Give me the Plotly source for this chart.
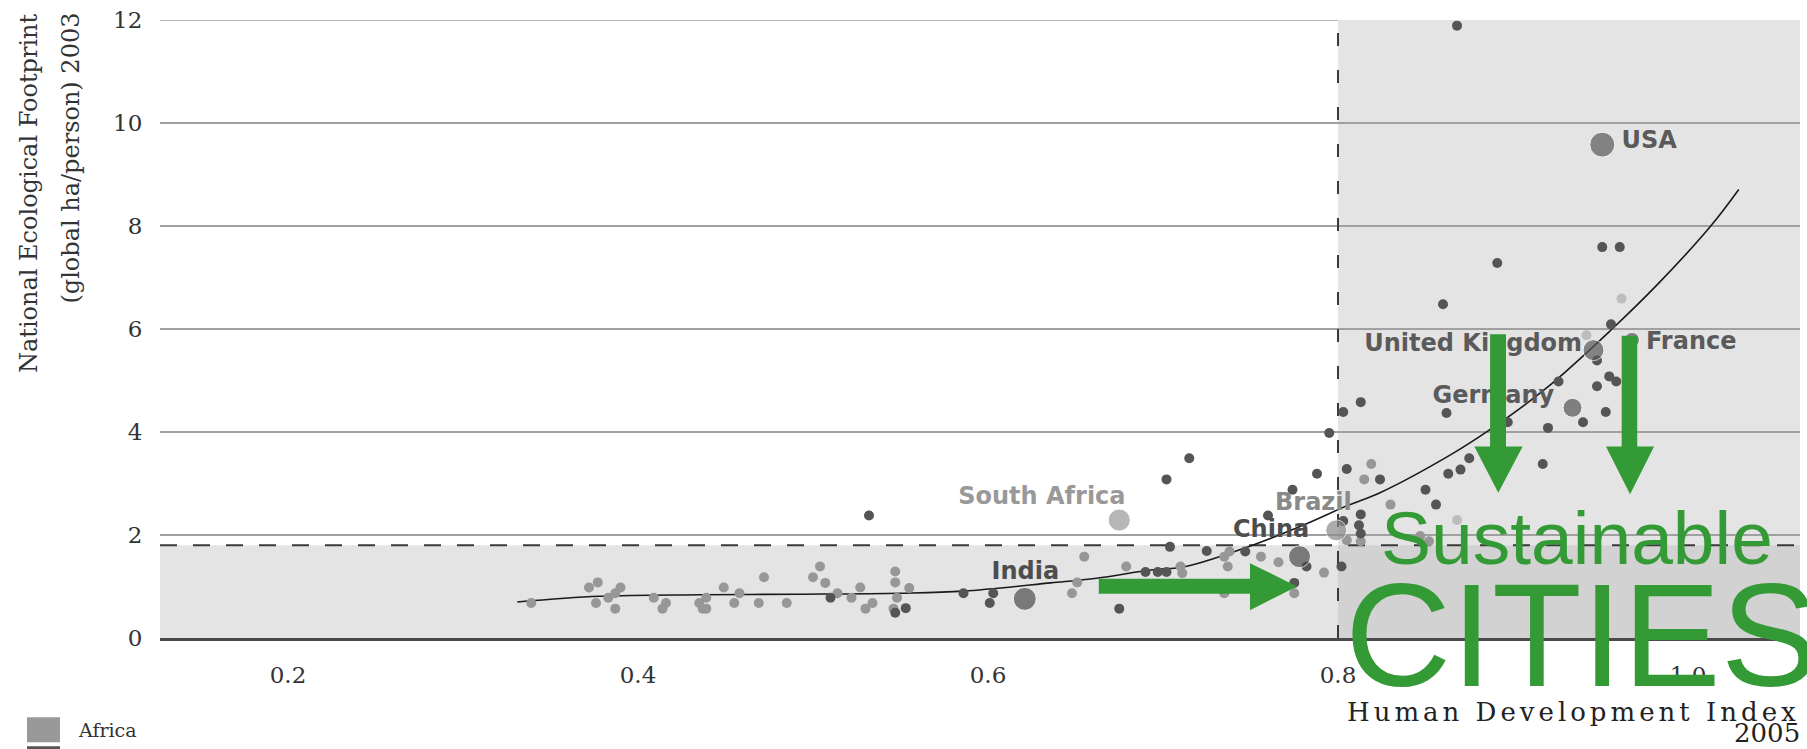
import plotly.graph_objects as go

# ---------------- data ----------------
africa_hdi = [0.339, 0.372, 0.377, 0.376, 0.383, 0.387, 0.390, 0.387, 0.409, 0.414,
              0.416, 0.435, 0.437, 0.439, 0.439, 0.449, 0.455, 0.458, 0.469, 0.472,
              0.485, 0.500, 0.504, 0.507, 0.514, 0.522, 0.527, 0.530, 0.534, 0.547,
              0.547, 0.548, 0.555, 0.546, 0.648, 0.651, 0.655, 0.679, 0.711, 0.710,
              0.735, 0.737, 0.756, 0.766, 0.792, 0.775, 0.735, 0.738, 0.805, 0.813,
              0.847, 0.852, 0.830, 0.819, 0.815]
africa_fp = [0.68, 0.98, 1.08, 0.68, 0.78, 0.87, 0.98, 0.57, 0.78, 0.57,
             0.68, 0.68, 0.57, 0.57, 0.78, 0.98, 0.68, 0.87, 0.68, 1.18,
             0.68, 1.18, 1.39, 1.07, 0.87, 0.78, 0.98, 0.57, 0.68, 1.08,
             1.29, 0.78, 0.97, 0.57, 0.87, 1.08, 1.58, 1.39, 1.26, 1.39,
             1.58, 1.39, 1.58, 1.47, 1.27, 0.87, 0.87, 1.68, 1.90, 1.88,
             1.98, 1.88, 2.59, 3.38, 3.08]

other_hdi = [0.532, 0.510, 0.547, 0.553, 0.586, 0.601, 0.603, 0.675, 0.690, 0.697,
             0.702, 0.702, 0.715, 0.704, 0.725, 0.747, 0.760, 0.774, 0.775, 0.782,
             0.788, 0.795, 0.802, 0.803, 0.813, 0.805, 0.824, 0.813, 0.803, 0.812,
             0.813, 0.850, 0.856, 0.862, 0.863, 0.870, 0.875, 0.897, 0.917, 0.920,
             0.926, 0.940, 0.948, 0.953, 0.955, 0.959, 0.948, 0.956, 0.860, 0.891,
             0.951, 0.961, 0.868]
other_fp = [2.38, 0.78, 0.49, 0.58, 0.87, 0.68, 0.87, 0.57, 1.28, 1.28,
            1.28, 3.08, 3.49, 1.77, 1.69, 1.68, 2.38, 2.88, 1.07, 1.39,
            3.19, 3.98, 1.39, 4.39, 4.58, 3.28, 3.08, 2.40, 2.27, 2.19,
            2.03, 2.88, 2.59, 4.37, 3.19, 3.27, 3.49, 4.19, 3.38, 4.08,
            4.98, 4.19, 4.89, 4.39, 5.08, 4.98, 5.39, 6.09, 6.48, 7.28,
            7.59, 7.59, 11.89]

pale_hdi = [0.962, 0.942, 0.868]
pale_fp = [6.59, 5.88, 2.29]

named_countries = ["USA", "United Kingdom", "France", "Germany",
                   "Brazil", "China", "India", "South Africa"]
named_hdi = [0.951, 0.946, 0.968, 0.934, 0.799, 0.778, 0.621, 0.675]
named_fp = [9.58, 5.59, 5.79, 4.47, 2.09, 1.58, 0.76, 2.29]

trend_hdi = [0.331, 0.378, 0.436, 0.492, 0.550, 0.586, 0.636, 0.662, 0.693, 0.713,
             0.746, 0.778, 0.806, 0.824, 0.864, 0.887, 0.919, 0.956, 0.983, 1.013,
             1.029]
trend_fp = [0.70, 0.81, 0.84, 0.85, 0.87, 0.91, 1.07, 1.16, 1.32, 1.39,
            1.74, 2.16, 2.58, 2.82, 3.55, 4.05, 4.85, 5.98, 6.88, 8.00,
            8.71]

x_ticks = [0.2, 0.4, 0.6, 0.8, 1.0]
y_ticks = [0, 2, 4, 6, 8, 10, 12]
hdi_threshold = 0.8
fp_threshold = 1.8

# ---------------- layout geometry / styling ----------------
W, H = 1807, 749
M_L, M_R, M_T, M_B = 160, 7, 15, 111
PLOT_W = W - M_L - M_R
PLOT_H = H - M_T - M_B
X_RANGE = [0.8 - (1338 - M_L) / 1750, 0.8 + (W - M_R - 1338) / 1750]
Y_RANGE = [0, 12]


def px_x(p):
    return (p - M_L) / PLOT_W


def px_y(p):
    return (H - M_B - p) / PLOT_H


AFRICA_C = "#979797"
OTHER_C = "#555555"
PALE_C = "#bdbdbd"
GREEN = "#339a36"
SERIF = "DejaVu Serif"
BOLD_SANS = "DejaVu Sans"

named_style = {
    "USA": dict(size=25, color="#5a5a5a", text="#5a5a5a", lx=0.962, ly=9.63),
    "United Kingdom": dict(size=21, color="#5a5a5a", text="#5a5a5a", lx=0.815, ly=5.68),
    "France": dict(size=15, color="#5a5a5a", text="#5a5a5a", lx=0.976, ly=5.73),
    "Germany": dict(size=19, color="#555555", text="#5a5a5a", lx=0.854, ly=4.68),
    "Brazil": dict(size=21, color="#8a8a8a", text="#8a8a8a", lx=0.764, ly=2.60),
    "China": dict(size=22, color="#4d4d4d", text="#4d4d4d", lx=0.740, ly=2.07),
    "India": dict(size=23, color="#4d4d4d", text="#4d4d4d", lx=0.602, ly=1.26),
    "South Africa": dict(size=22, color="#999999", text="#999999", lx=0.583, ly=2.72),
}

fig = go.Figure()

# trend curve
fig.add_trace(go.Scatter(x=trend_hdi, y=trend_fp, mode="lines",
                         line=dict(color="#1a1a1a", width=1.6, shape="spline"),
                         hoverinfo="skip", showlegend=False))

fig.add_trace(go.Scatter(x=africa_hdi, y=africa_fp, mode="markers",
                         marker=dict(color=AFRICA_C, size=10), name="Africa",
                         showlegend=False, cliponaxis=False))
fig.add_trace(go.Scatter(x=pale_hdi, y=pale_fp, mode="markers",
                         marker=dict(color=PALE_C, size=10), showlegend=False,
                         cliponaxis=False))
fig.add_trace(go.Scatter(x=other_hdi, y=other_fp, mode="markers",
                         marker=dict(color=OTHER_C, size=10), showlegend=False,
                         cliponaxis=False))

fig.add_trace(go.Scatter(
    x=named_hdi, y=named_fp, mode="markers",
    marker=dict(color=[named_style[c]["color"] for c in named_countries],
                size=[named_style[c]["size"] for c in named_countries]),
    text=named_countries, showlegend=False, cliponaxis=False))

# country labels (as text traces so the green arrows can cover them)
fig.add_trace(go.Scatter(
    x=[named_style[c]["lx"] for c in named_countries],
    y=[named_style[c]["ly"] for c in named_countries],
    mode="text", text=named_countries, textposition="middle right",
    textfont=dict(family=BOLD_SANS, size=24, weight="bold",
                  color=[named_style[c]["text"] for c in named_countries]),
    showlegend=False, cliponaxis=False, hoverinfo="skip"))

shapes = []
# shaded zones
shapes.append(dict(type="rect", xref="x", yref="y", x0=X_RANGE[0], x1=X_RANGE[1],
                   y0=0, y1=fp_threshold, fillcolor="#e4e4e4", line=dict(width=0),
                   layer="below"))
shapes.append(dict(type="rect", xref="x", yref="y", x0=hdi_threshold, x1=X_RANGE[1],
                   y0=fp_threshold, y1=Y_RANGE[1], fillcolor="#e4e4e4",
                   line=dict(width=0), layer="below"))
shapes.append(dict(type="rect", xref="x", yref="y", x0=hdi_threshold, x1=X_RANGE[1],
                   y0=0, y1=fp_threshold, fillcolor="#d2d2d2", line=dict(width=0),
                   layer="below"))
# top grid line (at the range edge)
shapes.append(dict(type="line", xref="paper", yref="y", x0=0, x1=1,
                   y0=Y_RANGE[1], y1=Y_RANGE[1],
                   line=dict(color="#a0a0a0", width=1.6), layer="between"))
# dashed threshold lines
shapes.append(dict(type="line", xref="x", yref="y", x0=X_RANGE[0], x1=X_RANGE[1],
                   y0=fp_threshold, y1=fp_threshold,
                   line=dict(color="#3a3a3a", width=2, dash="17px,16px"),
                   layer="between"))
shapes.append(dict(type="line", xref="x", yref="y", x0=hdi_threshold, x1=hdi_threshold,
                   y0=0, y1=Y_RANGE[1],
                   line=dict(color="#3a3a3a", width=2, dash="13px,24px"),
                   layer="between"))


# green arrows (overlay)
def hpath(x0, xb, xt, ys0, ys1, yh0, yh1, ym):
    return (f"M {x0},{ys0} L {xb},{ys0} L {xb},{yh1} L {xt},{ym} L {xb},{yh0} "
            f"L {xb},{ys1} L {x0},{ys1} Z")


def vpath(xs0, xs1, xh0, xh1, xm, ytop, yb, ytip):
    return (f"M {xs0},{ytop} L {xs1},{ytop} L {xs1},{yb} L {xh1},{yb} L {xm},{ytip} "
            f"L {xh0},{yb} L {xs0},{yb} Z")


arrow_style = dict(type="path", xref="x", yref="y", fillcolor=GREEN,
                   line=dict(width=0), layer="above")
shapes.append(dict(path=hpath(0.6633, 0.7497, 0.7766, 1.150, 0.861, 0.539,
                              1.451, 1.002), **arrow_style))
shapes.append(dict(path=vpath(0.8869, 0.8960, 0.8779, 0.9055, 0.8916, 5.90, 3.72,
                              2.82), **arrow_style))
shapes.append(dict(path=vpath(0.9621, 0.9710, 0.9531, 0.9806, 0.9669, 5.87, 3.72,
                              2.79), **arrow_style))

# legend swatches (bottom left, second one cut off by the page edge)
shapes.append(dict(type="rect", xref="paper", yref="paper", x0=px_x(27), x1=px_x(60),
                   y0=px_y(743), y1=px_y(718), fillcolor="#999999", line=dict(width=0)))
shapes.append(dict(type="rect", xref="paper", yref="paper", x0=px_x(27), x1=px_x(60),
                   y0=px_y(772), y1=px_y(747), fillcolor="#555555", line=dict(width=0)))

title_font = dict(family=SERIF, size=24, color="#333333")
annotations = [
    dict(text="National Ecological Footprint",
         xref="paper", yref="paper", x=px_x(29), y=px_y(6), xanchor="center",
         yanchor="top", textangle=-90, showarrow=False, font=title_font),
    dict(text="(global ha/person) 2003",
         xref="paper", yref="paper", x=px_x(71), y=px_y(6), xanchor="center",
         yanchor="top", textangle=-90, showarrow=False, font=title_font),
    dict(text='<span style="letter-spacing:4px">Human Development Index</span>',
         xref="paper", yref="paper", x=px_x(1802), y=px_y(713), xanchor="right",
         yanchor="middle", showarrow=False,
         font=dict(family=SERIF, size=26, color="#222222")),
    dict(text="2005", xref="paper", yref="paper", x=px_x(1802), y=px_y(734),
         xanchor="right", yanchor="middle", showarrow=False,
         font=dict(family=SERIF, size=26, color="#222222")),
    dict(text="Africa", xref="paper", yref="paper", x=px_x(76), y=px_y(731),
         xanchor="left", yanchor="middle", showarrow=False,
         font=dict(family=SERIF, size=19, color="#333333")),
    dict(text="Sustainable", xref="x", yref="y", x=0.8234, y=1.946,
         xanchor="left", yanchor="middle", showarrow=False,
         font=dict(family="Liberation Sans", size=75, color=GREEN)),
    dict(text="CITIES", xref="x", yref="y", x=0.8029, y=0.054,
         xanchor="left", yanchor="middle", showarrow=False,
         font=dict(family="Liberation Sans", size=147, color=GREEN)),
]

fig.update_layout(
    width=W, height=H,
    margin=dict(l=M_L, r=M_R, t=M_T, b=M_B),
    paper_bgcolor="white", plot_bgcolor="white",
    shapes=shapes, annotations=annotations, showlegend=False,
    xaxis=dict(range=X_RANGE, tickvals=x_ticks, tickformat=".1f",
               showgrid=False, zeroline=False, showline=True,
               linecolor="#4a4a4a", linewidth=3,
               ticks="outside", ticklen=14, tickcolor="rgba(0,0,0,0)",
               tickfont=dict(family=SERIF, size=23, color="#333333")),
    yaxis=dict(range=Y_RANGE, tickvals=y_ticks, showgrid=True,
               gridcolor="#a0a0a0", gridwidth=1.6, zeroline=False,
               ticks="outside", ticklen=12, tickcolor="rgba(0,0,0,0)",
               tickfont=dict(family=SERIF, size=23, color="#333333")),
)

fig.write_html("out.html",
               config={"displayModeBar": False},
               post_script="document.body.style.margin='0';"
                           "document.body.style.overflow='hidden';")
